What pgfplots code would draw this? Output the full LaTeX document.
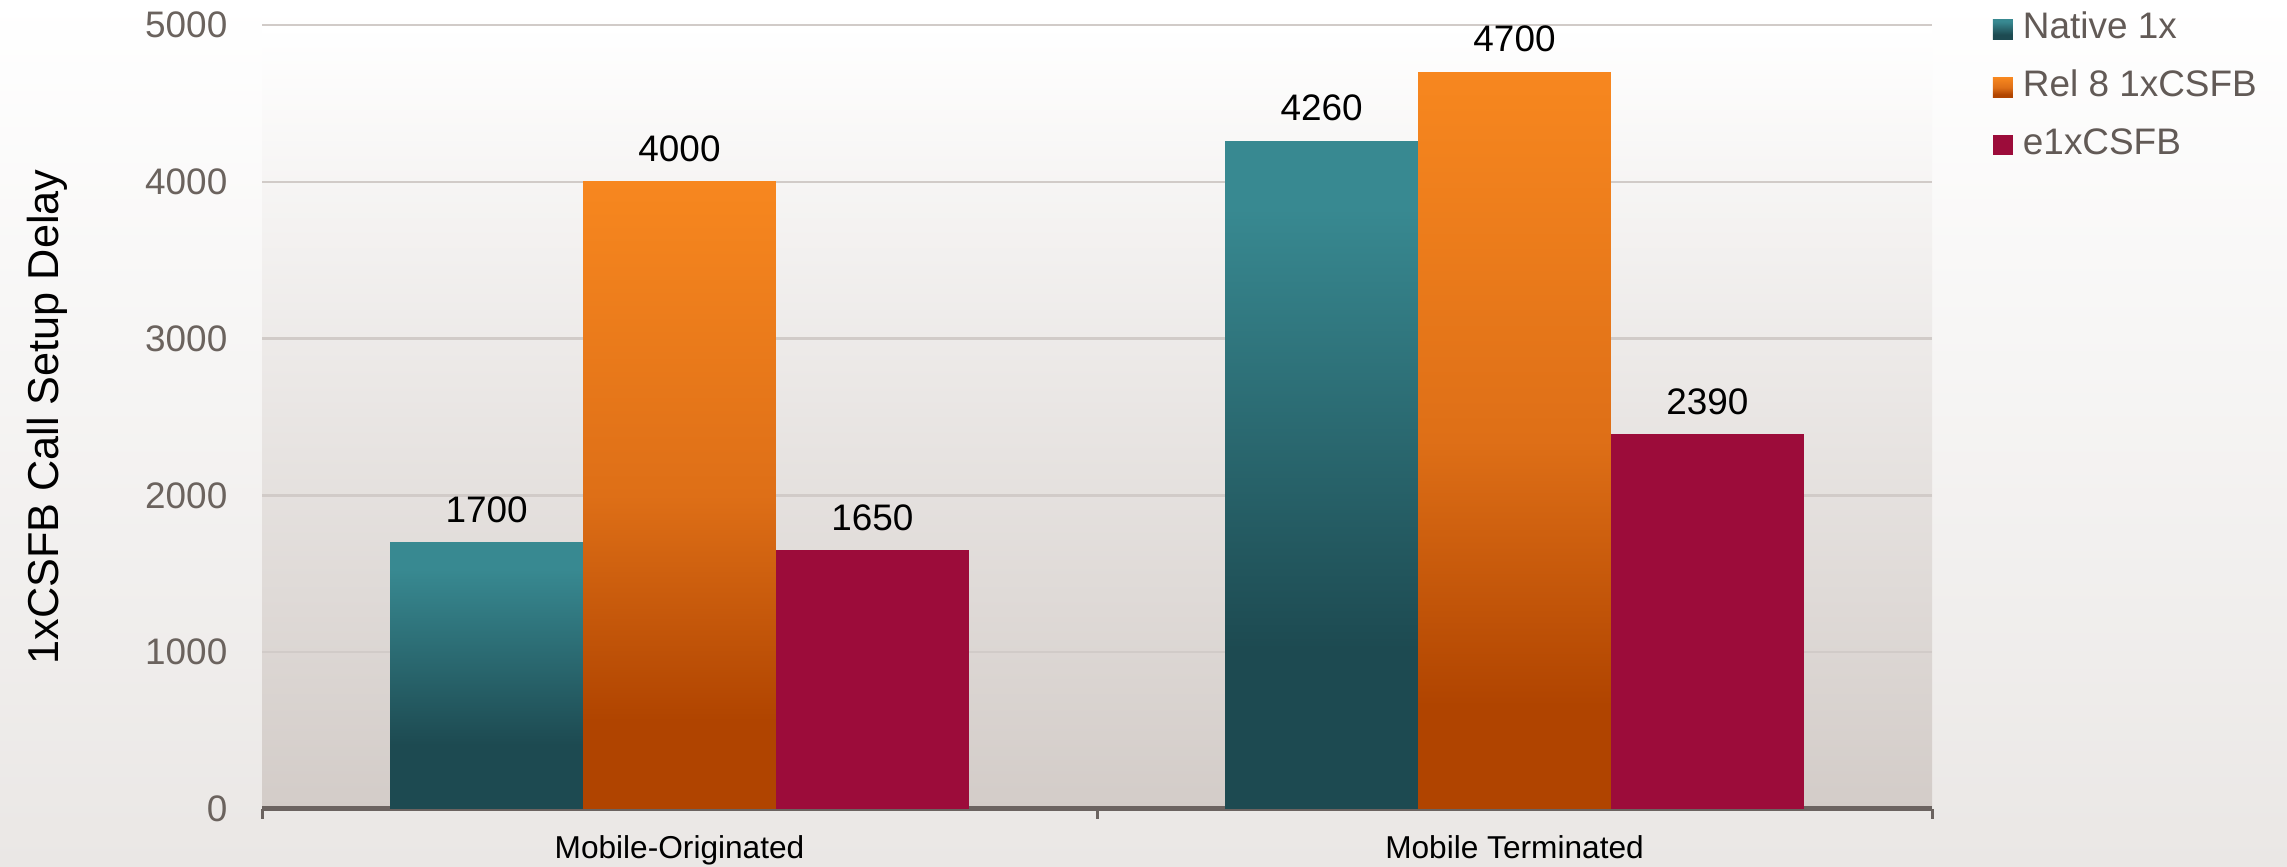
\documentclass[border=0pt]{standalone}
\usepackage{pgfplots}
\pgfplotsset{compat=1.18}
\usepackage{fontspec}
\setmainfont{Liberation Sans}

\definecolor{tealT}{HTML}{388991}
\definecolor{tealB}{HTML}{1D4A51}
\definecolor{orT}{HTML}{F7871F}
\definecolor{orM}{HTML}{DE6F17}
\definecolor{orB}{HTML}{B04400}
\definecolor{crimson}{HTML}{9C0C3A}
\definecolor{gridgray}{HTML}{D1CBC8}
\definecolor{axisgray}{HTML}{6B6360}
\definecolor{tickgray}{HTML}{6B635E}
\definecolor{leggray}{HTML}{625A56}
\definecolor{plotbot}{HTML}{D3CCC8}
\definecolor{pagebot}{HTML}{EAE7E5}

% vertical bar shadings (25bp = bar bottom, 75bp = bar top)
\pgfdeclareverticalshading{tealbar}{100bp}{color(0bp)=(tealB); color(37bp)=(tealB); color(70bp)=(tealT); color(100bp)=(tealT)}
\pgfdeclareverticalshading{orangebar}{100bp}{color(0bp)=(orB); color(32bp)=(orB); color(50bp)=(orM); color(75bp)=(orT); color(100bp)=(orT)}

\newcommand\tickfont{\fontsize{10.5pt}{12pt}\selectfont}
\newcommand\catfont{\fontsize{9pt}{10pt}\selectfont}
\newcommand\ylabfont{\fontsize{12.3pt}{14pt}\selectfont}

\begin{document}
\begin{tikzpicture}
\shade[top color=white, bottom color=pagebot] (0,0) rectangle (228.7mm,86.7mm);
\useasboundingbox (0,0) rectangle (228.7mm,86.7mm);
\begin{axis}[
  at={(26.2mm,5.8mm)}, anchor=south west,
  scale only axis, width=167mm, height=78.4mm,
  xmin=-0.5, xmax=1.5, ymin=0, ymax=5000,
  axis background/.style={shade, top color=white, bottom color=plotbot},
  axis x line*=bottom, axis y line*=left,
  x axis line style={draw=axisgray, line width=0.5mm, -},
  y axis line style={draw=none},
  ytick={0,1000,2000,3000,4000,5000},
  ytick style={draw=none},
  ymajorgrids, major grid style={draw=gridgray, line width=0.25mm},
  xtick={0,1}, xticklabels={Mobile-Originated,Mobile Terminated},
  major tick length=0pt,
  extra x ticks={-0.5,0.5,1.5}, extra x tick labels={},
  extra x tick style={grid=none, tick align=outside, major tick length=1mm,
    tick style={draw=axisgray, line width=0.3mm}},
  /pgf/number format/1000 sep={},
  /pgf/number format/assume math mode=true,
  yticklabel style={font=\tickfont, color=tickgray, inner sep=0pt, xshift=-3.4mm, anchor=east},
  xticklabel style={font=\catfont, color=black, inner sep=0pt, yshift=-2.6mm, anchor=north},
  every axis y label/.style={at={(rel axis cs:-0.1413,0.5)}, rotate=90, anchor=north, inner sep=0pt, font=\ylabfont},
  ylabel={1xCSFB Call Setup Delay},
  bar width=0.231,
  every node near coord/.append style={font=\tickfont, color=black, anchor=south, inner sep=0pt, yshift=1.9mm},
  legend style={at={(rel axis cs:1.0365,1.0166)}, anchor=north west, draw=none, fill=none,
    inner sep=0pt, outer sep=0pt, font=\tickfont, text=leggray,
    column sep=1mm, row sep=2.3mm,
    nodes={inner sep=0pt, text height=2.7mm, text depth=0.8mm}},
  legend cell align=left,
  legend image code/.code={\fill[#1, draw=none] (0mm,-1mm) rectangle (2mm,1mm);},
]
% each series placed at its own offset inside the two category slots (0 and 1)
\addplot[ybar, bar shift=0, draw=none, shade, shading=tealbar, nodes near coords] coordinates {(-0.231,1700)};
\addplot[ybar, bar shift=0, draw=none, shade, shading=orangebar, nodes near coords] coordinates {(0,4000)};
\addplot[ybar, bar shift=0, draw=none, fill=crimson, nodes near coords] coordinates {(0.231,1650)};
\legend{Native 1x, Rel 8 1xCSFB, e1xCSFB}
% Mobile Terminated
\addplot[ybar, bar shift=0, draw=none, shade, shading=tealbar, nodes near coords, forget plot] coordinates {(0.769,4260)};
\addplot[ybar, bar shift=0, draw=none, shade, shading=orangebar, nodes near coords, forget plot] coordinates {(1,4700)};
\addplot[ybar, bar shift=0, draw=none, fill=crimson, nodes near coords, forget plot] coordinates {(1.231,2390)};
\end{axis}
\end{tikzpicture}
\end{document}
